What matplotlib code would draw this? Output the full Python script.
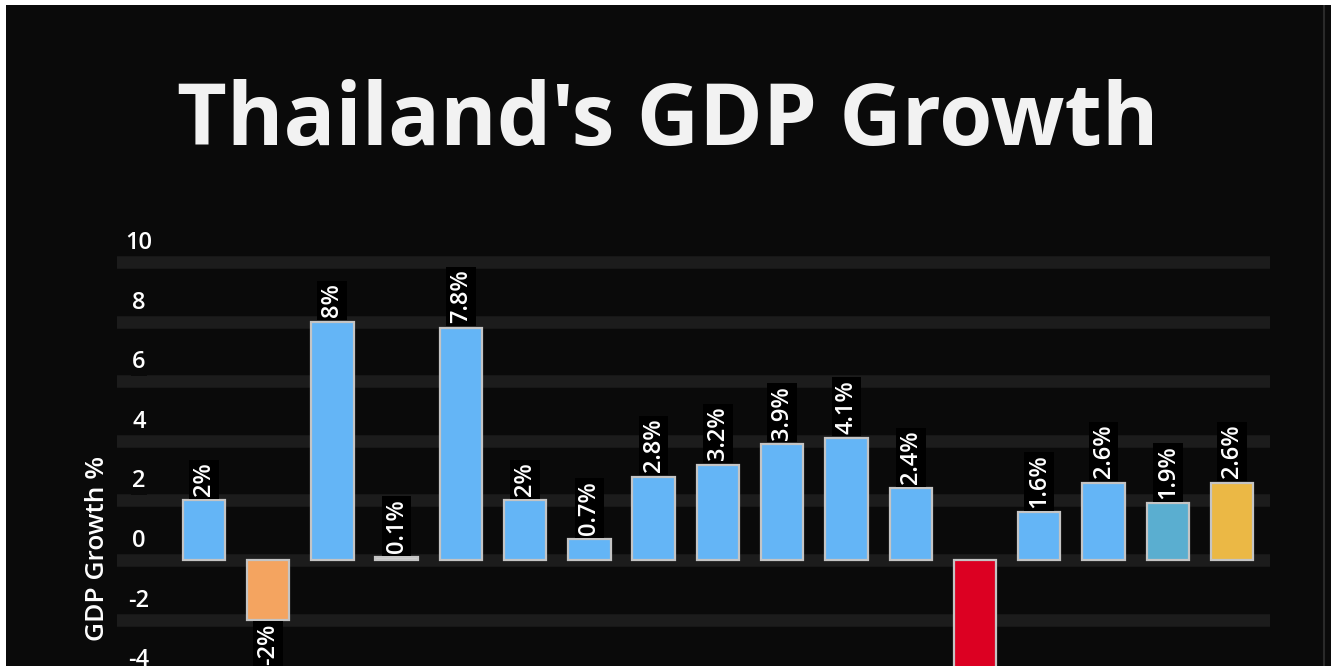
import matplotlib
matplotlib.use("Agg")
import matplotlib.pyplot as plt
from matplotlib.patches import Rectangle
from matplotlib.lines import Line2D
from matplotlib.transforms import ScaledTranslation, offset_copy

# ---- data ----
years = [2008, 2009, 2010, 2011, 2012, 2013, 2014, 2015, 2016,
         2017, 2018, 2019, 2020, 2021, 2022, 2023, 2024]
growth = [2, -2, 8, 0.1, 7.8, 2, 0.7, 2.8, 3.2, 3.9, 4.1, 2.4,
          -6.1, 1.6, 2.6, 1.9, 2.6]
yticks = [-4, -2, 0, 2, 4, 6, 8, 10]
title = "Thailand's GDP Growth"
ylabel = "GDP Growth %"

# ---- styles ----
BLUE = "#64b5f6"
bar_colors = [BLUE, "#f4a460", BLUE, "#d0d0d0", BLUE, BLUE, BLUE, BLUE,
              BLUE, BLUE, BLUE, BLUE, "#dc0022", BLUE, BLUE, "#5aaed0",
              "#ebb845"]
BG = "#0a0a0a"
GRID = "#1c1c1c"
FONT = "Open Sans"

W, H = 1331, 666
fig = plt.figure(figsize=(W / 100, H / 100), dpi=100, facecolor=BG)

# thin white margin top/left, thin grey line at right
fig.patches.append(Rectangle((0, 1 - 5 / H), 1, 5 / H,
                             transform=fig.transFigure, facecolor="white",
                             edgecolor="none", zorder=-5))
fig.patches.append(Rectangle((0, 0), 6 / W, 1,
                             transform=fig.transFigure, facecolor="white",
                             edgecolor="none", zorder=-5))
fig.lines.append(Line2D([1324 / W, 1324 / W], [0, 1 - 5 / H],
                        transform=fig.transFigure, color="#2a2a2a", lw=1.5,
                        zorder=-5))

# axes extends below the visible canvas (chart is cropped)
ymin, ymax = -8, 11
ppu = 29.8
zero_px = 560
top_px = zero_px - ppu * ymax
bot_px = zero_px - ppu * ymin
left_px, right_px = 117, 1270
ax = fig.add_axes([left_px / W, 1 - bot_px / H,
                   (right_px - left_px) / W, (bot_px - top_px) / H])
ax.set_facecolor("none")
ax.set_zorder(2)

x = list(range(len(years)))
bars = ax.bar(x, growth, width=0.66, color=bar_colors,
              edgecolor="#c4c4c4", linewidth=1.6, zorder=3)

ax.set_xlim(-1.35, len(years) - 1 + 0.59)
ax.set_ylim(ymin, ymax)
ax.set_xticks(x)
ax.set_xticklabels([])
ax.set_yticks(yticks)
ax.set_yticklabels([f"{t:g}" for t in yticks])
ax.tick_params(axis="both", length=0, pad=0)
ax.grid(axis="y", color=GRID, linewidth=9, zorder=0)
for s in ax.spines.values():
    s.set_visible(False)

for lab in ax.get_yticklabels():
    lab.set_fontfamily(FONT)
    lab.set_fontsize(17)
    lab.set_fontweight("semibold")
    lab.set_color("white")
    lab.set_horizontalalignment("center")
    lab.set_verticalalignment("bottom")
    lab.set_transform(lab.get_transform() +
                      ScaledTranslation(0.22, 0.07, fig.dpi_scale_trans))
    lab.set_bbox(dict(facecolor=BG, edgecolor="none", pad=1))

ax.set_ylabel(ylabel, color="white", fontsize=19, fontfamily=FONT,
              fontweight="semibold")
ax.yaxis.set_label_coords(-0.006, (0.4 - ymin) / (ymax - ymin))

# value labels
for xi, v in zip(x, growth):
    if v >= 0:
        tr = offset_copy(ax.transData, fig=fig, x=0, y=3, units="points")
        va = "bottom"
    else:
        tr = offset_copy(ax.transData, fig=fig, x=0, y=-3, units="points")
        va = "top"
    ax.text(xi, v, f"{v:g}%", rotation=90, ha="center", va=va,
            color="white", fontsize=17, fontfamily=FONT,
            fontweight="semibold", transform=tr, zorder=5,
            bbox=dict(facecolor="black", edgecolor="none", pad=2))

fig.text(668 / W, 1 - 123 / H, title, ha="center", va="center",
         color="#f2f2f2", fontsize=62, fontfamily=FONT, fontweight="bold")

fig.savefig("out.png", dpi=100, facecolor=fig.get_facecolor())
